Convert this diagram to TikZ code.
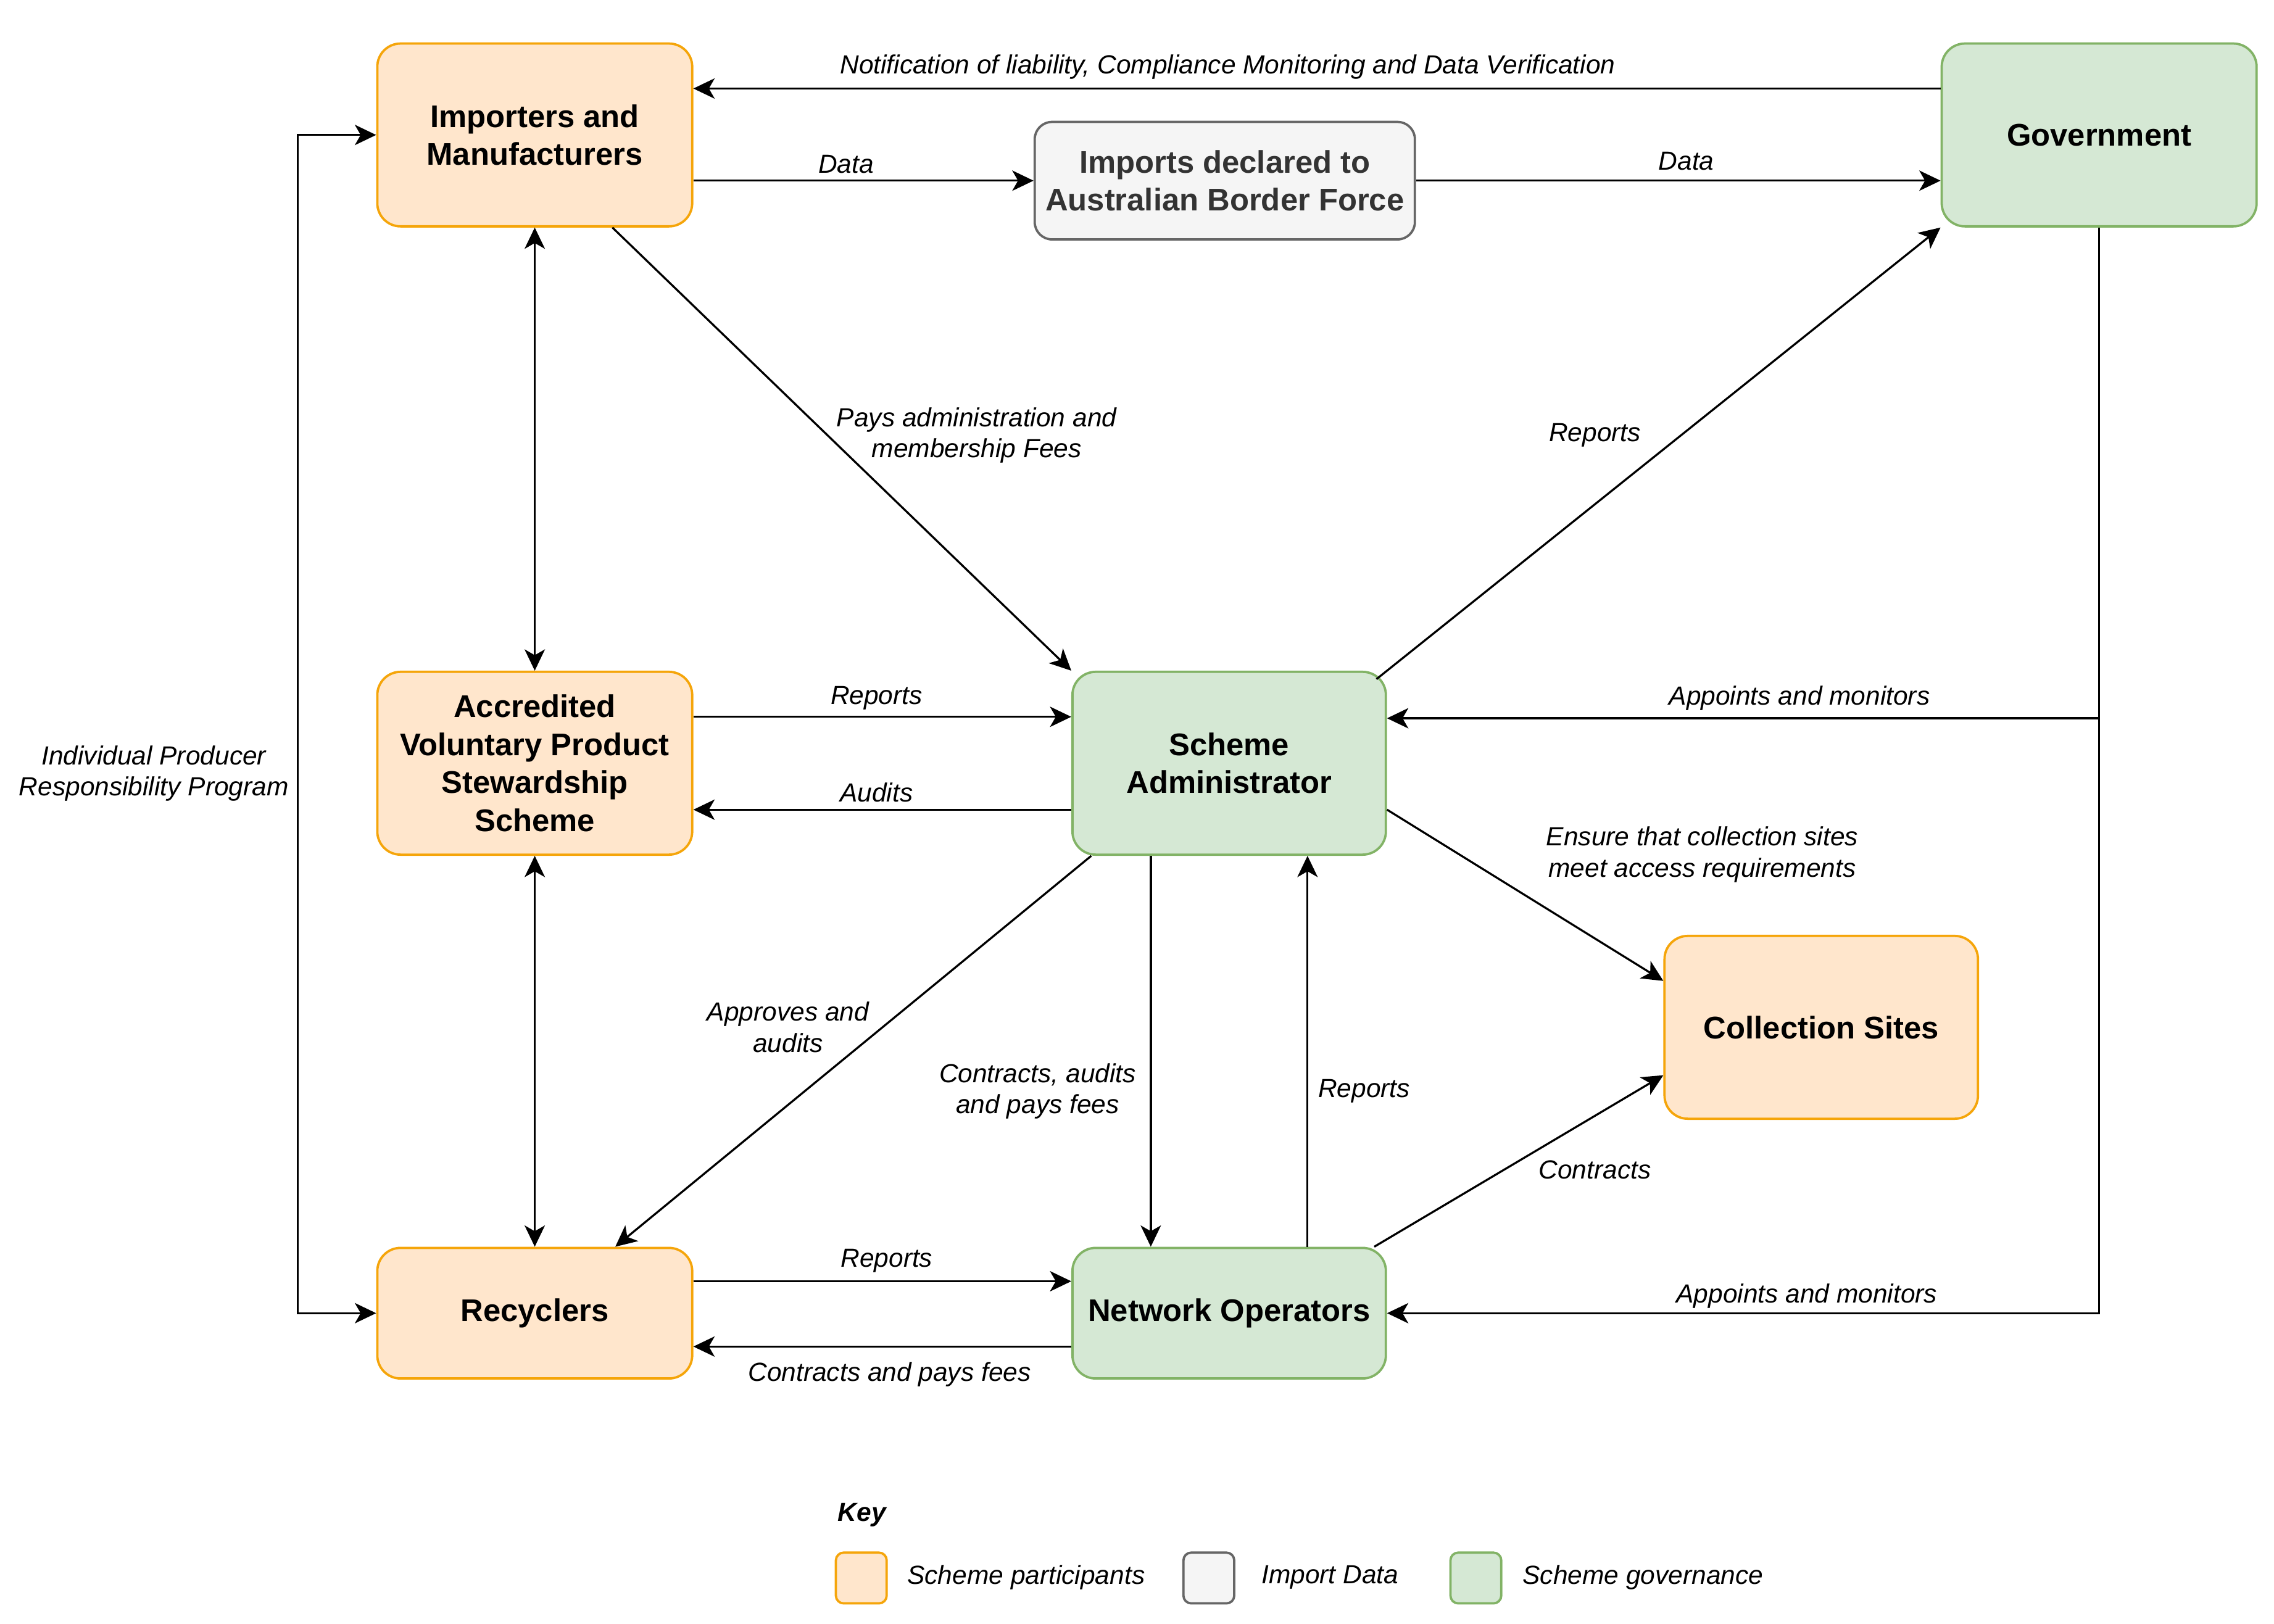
\documentclass[tikz,border=0pt]{standalone}
\usepackage{fontspec}
\setmainfont{Liberation Sans}
\usepackage{tikz}
\usetikzlibrary{arrows.meta}

\definecolor{partfill}{HTML}{FFE6CC}
\definecolor{partline}{HTML}{F5A50A}
\definecolor{govfill}{HTML}{D5E8D4}
\definecolor{govline}{HTML}{82B366}
\definecolor{datafill}{HTML}{F5F5F5}
\definecolor{dataline}{HTML}{666666}
\definecolor{datatext}{HTML}{333333}

\newcommand{\bxfont}{\fontsize{16.2}{19.6}\selectfont\bfseries}
\newcommand{\lblfont}{\fontsize{13.55}{16.2}\selectfont\itshape}

\begin{document}
\begin{tikzpicture}[x=0.75pt,y=0.75pt,yscale=-1,xscale=1,
  partbox/.style={draw=partline,fill=partfill,line width=1.2pt,rounded corners=12pt,align=center,font=\bxfont,inner sep=0.75pt},
  govbox/.style={draw=govline,fill=govfill,line width=1.2pt,rounded corners=12pt,align=center,font=\bxfont,inner sep=0.75pt},
  databox/.style={draw=dataline,fill=datafill,text=datatext,line width=1.2pt,rounded corners=9pt,align=center,font=\bxfont,inner sep=0.75pt},
  keybox/.style={line width=1.2pt,rounded corners=4pt,minimum size=26.25pt,inner sep=0pt},
  lbl/.style={font=\lblfont,align=center,inner sep=0.75pt},
  arr/.style={line width=1.05pt,-{Stealth[length=11pt,width=10.5pt,inset=3pt]}},
  arrs/.style={line width=1.05pt,{Stealth[length=11pt,width=10.5pt,inset=3pt]}-{Stealth[length=11pt,width=10.5pt,inset=3pt]}}]
\useasboundingbox (0,0) rectangle (1567,1118.8);

% Text Node
\node (im) at (368.5,93) [partbox,minimum width=162.75pt,minimum height=94.5pt] {Importers and\\Manufacturers};
% Text Node
\node (abf) at (844,124.5) [databox,minimum width=196.5pt,minimum height=60.75pt] {Imports declared to\\Australian Border Force};
% Text Node
\node (gov) at (1446.5,93) [govbox,minimum width=162.75pt,minimum height=94.5pt] {Government};
% Text Node
\node (av) at (368.5,526) [partbox,minimum width=162.75pt,minimum height=94.5pt] {Accredited\\Voluntary Product\\Stewardship\\Scheme};
% Text Node
\node (sa) at (847,526) [govbox,minimum width=162pt,minimum height=94.5pt] {Scheme\\Administrator};
% Text Node
\node (cs) at (1255,708) [partbox,minimum width=162pt,minimum height=94.5pt] {Collection Sites};
% Text Node
\node (rc) at (368.5,905) [partbox,minimum width=162.75pt,minimum height=67.5pt] {Recyclers};
% Text Node
\node (no) at (847,905) [govbox,minimum width=162pt,minimum height=67.5pt] {Network Operators};

% Text Node
\node (lnotif) at (846,46) [lbl] {Notification of liability, Compliance Monitoring and Data Verification};
% Text Node
\node (ldata1) at (583,113) [lbl] {Data};
% Text Node
\node (ldata2) at (1162,111) [lbl] {Data};
% Text Node
\node (lpays) at (673,300) [lbl] {Pays administration and\\membership Fees};
% Text Node
\node (lrepgov) at (1099,300) [lbl] {Reports};
% Text Node
\node (lapp1) at (1240,481) [lbl] {Appoints and monitors};
% Text Node
\node (lrepav) at (604,481) [lbl] {Reports};
% Text Node
\node (laudits) at (604,546) [lbl] {Audits};
% Text Node
\node (lipr) at (106,533) [lbl] {Individual Producer\\Responsibility Program};
% Text Node
\node (lensure) at (1173,589) [lbl] {Ensure that collection sites\\meet access requirements};
% Text Node
\node (lappr) at (543,708) [lbl] {Approves and\\audits};
% Text Node
\node (lcontr) at (715,752) [lbl] {Contracts, audits\\and pays fees};
% Text Node
\node (lrepno) at (940,752) [lbl] {Reports};
% Text Node
\node (lcontcs) at (1099,806) [lbl] {Contracts};
% Text Node
\node (lreprc) at (611,869) [lbl] {Reports};
% Text Node
\node (lcontpay) at (613,947) [lbl] {Contracts and pays fees};
% Text Node
\node (lapp2) at (1245,893) [lbl] {Appoints and monitors};

% Key
\node (lkey) at (594,1044) [lbl,font=\lblfont\bfseries] {Key};
\node (kpart) at (593.5,1087.5) [keybox,draw=partline,fill=partfill] {};
\node (lpart) at (624,1087) [lbl,anchor=west] {Scheme participants};
\node (kdata) at (833,1087.5) [keybox,draw=dataline,fill=datafill] {};
\node (ldata) at (868,1087) [lbl,anchor=west] {Import Data};
\node (kgov) at (1017,1087.5) [keybox,draw=govline,fill=govfill] {};
\node (lgov) at (1048,1087) [lbl,anchor=west] {Scheme governance};

% Connection
\draw [arr] (gov.west |- 0,61) -- (im.east |- 0,61);
% Connection
\draw [arr] (im.east |- abf.west) -- (abf.west);
% Connection
\draw [arr] (abf.east) -- (gov.west |- abf.east);
% Connection
\draw [arrs] (im.south) -- (av.north);
% Connection
\draw [arr] (im.south -| 422,0) -- (sa.north west);
% Connection
\draw [arr,shorten <=-7pt] (sa.north east) -- (gov.south west);
% Connection
\draw [arr] (gov.south |- 0,495) -- (sa.east |- 0,495);
% Connection
\draw [arr] (gov.south) |- (no.east);
% Connection
\draw [arr] (av.east |- 0,494) -- (sa.west |- 0,494);
% Connection
\draw [arr] (sa.west |- 0,558) -- (av.east |- 0,558);
% Connection
\draw [arrs] (av.south) -- (rc.north);
% Connection
\draw [arr] (752,0 |- sa.south) -- (424,0 |- rc.north);
% Connection
\draw [arr] (793,0 |- sa.south) -- (793,0 |- no.north);
% Connection
\draw [arr] (901,0 |- no.north) -- (901,0 |- sa.south);
% Connection
\draw [arr] (sa.east |- 0,558) -- (cs.west |- 0,676);
% Connection
\draw [arr] (947,0 |- no.north) -- (cs.west |- 0,741);
% Connection
\draw [arr] (rc.east |- 0,883) -- (no.west |- 0,883);
% Connection
\draw [arr] (no.west |- 0,928) -- (rc.east |- 0,928);
% Connection
\draw [arrs] (im.west) -- ++(-54,0) |- (rc.west);

\end{tikzpicture}
\end{document}
